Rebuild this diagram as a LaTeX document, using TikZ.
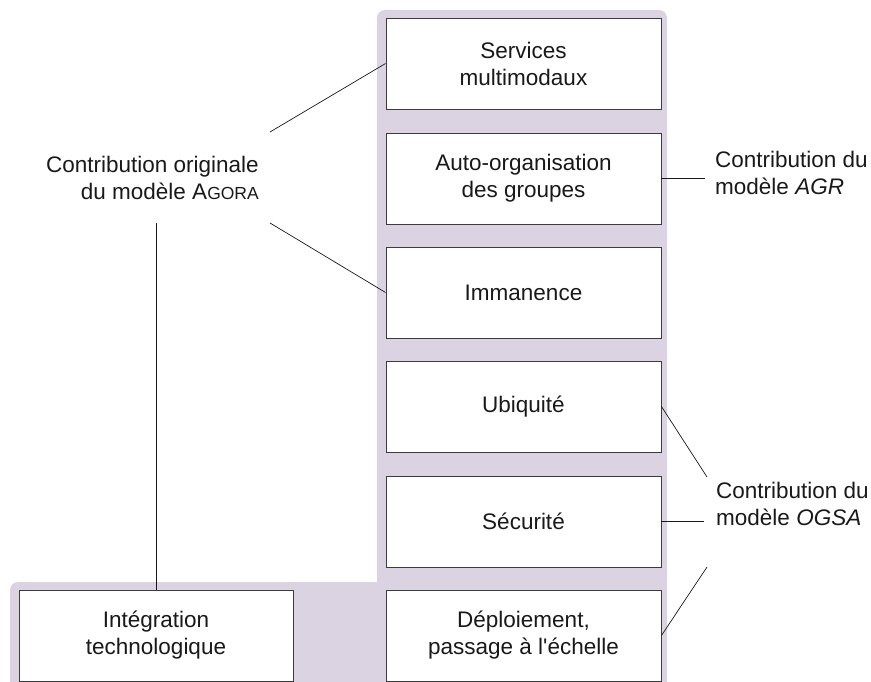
\documentclass[tikz,border=0pt]{standalone}
\usepackage{fontspec}
\setmainfont{Liberation Sans}
\definecolor{lavender}{RGB}{219,211,226}
\definecolor{boxline}{RGB}{60,60,60}
\definecolor{ink}{RGB}{25,25,25}
\begin{document}
\begin{tikzpicture}[x=1pt,y=-1pt,
  txt/.style={font=\fontsize{22.5}{27}\selectfont, text=ink, inner sep=0pt},
  layer/.style={txt, draw=boxline, line width=0.9pt, fill=white, align=center,
    minimum width=275pt, minimum height=91pt},
  lbl/.style={txt},
  link/.style={draw=ink, line width=0.7pt}]
\useasboundingbox (0,0) rectangle (871,682);

% lavender background: the column of layers and the foot on the left
\fill[lavender, rounded corners=8pt] (377,10) rectangle (667,720);
\fill[lavender, rounded corners=8pt] (10,582) rectangle (420,720);

% layers
\node[layer] (serv) at (523.5,63.5)  {Services\\multimodaux};
\node[layer] (auto) at (523.5,178.5) {Auto-organisation\\des groupes};
\node[layer] (imma) at (523.5,292.5) {Immanence};
\node[layer] (ubiq) at (523.5,406.5) {Ubiquité};
\node[layer] (secu) at (523.5,521.5) {Sécurité};
\node[layer] (depl) at (523.5,635.5) {Déploiement,\\passage à l\textquotesingle échelle};
\node[layer, minimum width=274pt] (integ) at (156,635.5) {Intégration\\technologique};

% contribution labels (anchored on the baseline of their last line)
\node[lbl, align=right, anchor=base east] (agora) at (259,200)
  {Contribution originale\\du modèle A{\fontsize{17.5}{27}\selectfont GORA}};
\node[lbl, align=left, anchor=base west] (agr) at (715,195)
  {Contribution du\\modèle \textit{AGR}};
\node[lbl, align=left, anchor=base west] (ogsa) at (716,525)
  {Contribution du\\modèle \textit{OGSA}};

% free ends of the connectors
\coordinate (agoraTop) at (270,132);
\coordinate (agoraBot) at (270,223);
\coordinate (agoraFoot) at (156,223);
\coordinate (agrEnd) at (705,178.5);
\coordinate (ogsaTop) at (707,477);
\coordinate (ogsaMid) at (704,521.5);
\coordinate (ogsaBot) at (707,567);

% connectors
\draw[link] (agoraTop) -- (serv.west);
\draw[link] (agoraBot) -- (imma.west);
\draw[link] (agoraFoot) -- (integ.north);
\draw[link] (auto.east) -- (agrEnd);
\draw[link] (ubiq.east) -- (ogsaTop);
\draw[link] (secu.east) -- (ogsaMid);
\draw[link] (depl.east) -- (ogsaBot);
\end{tikzpicture}
\end{document}
